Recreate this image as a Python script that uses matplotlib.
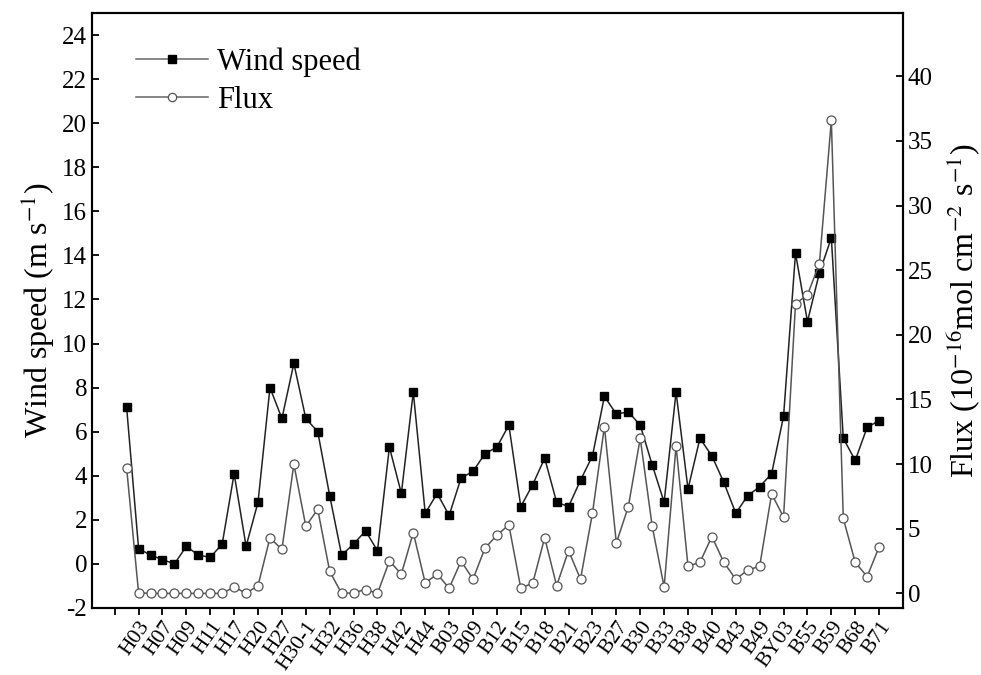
import numpy as np
import matplotlib
matplotlib.use('Agg')
import matplotlib.pyplot as plt

# ---------- Data ----------
# labels shown on every other site (even positions 2, 4, ..., 64)
tick_labels = ['H03', 'H07', 'H09', 'H11', 'H17', 'H20', 'H27', 'H30-1',
               'H32', 'H36', 'H38', 'H42', 'H44', 'B03', 'B09', 'B12',
               'B15', 'B18', 'B21', 'B23', 'B27', 'B30', 'B33', 'B38',
               'B40', 'B43', 'B49', 'BY03', 'B55', 'B59', 'B68', 'B71']

# wind speed (m s-1), 64 sites
wind_speed = [7.1, 0.7, 0.4, 0.2, 0.0, 0.8, 0.4, 0.3, 0.9, 4.1,
              0.8, 2.8, 8.0, 6.6, 9.1, 6.6, 6.0, 3.1, 0.4, 0.9,
              1.5, 0.6, 5.3, 3.2, 7.8, 2.3, 3.2, 2.2, 3.9, 4.2,
              5.0, 5.3, 6.3, 2.6, 3.6, 4.8, 2.8, 2.6, 3.8, 4.9,
              7.6, 6.8, 6.9, 6.3, 4.5, 2.8, 7.8, 3.4, 5.7, 4.9,
              3.7, 2.3, 3.1, 3.5, 4.1, 6.7, 14.1, 11.0, 13.2, 14.8,
              5.7, 4.7, 6.2, 6.5]

# flux (10^-16 mol cm-2 s-1), 64 sites
flux = [9.7, 0.05, 0.0, 0.0, 0.0, 0.0, 0.0, 0.0, 0.0, 0.5,
        0.0, 0.6, 4.3, 3.4, 10.0, 5.2, 6.5, 1.7, 0.0, 0.05,
        0.3, 0.0, 2.5, 1.5, 4.7, 0.8, 1.5, 0.4, 2.5, 1.1,
        3.5, 4.5, 5.3, 0.4, 0.8, 4.3, 0.6, 3.3, 1.1, 6.2,
        12.9, 3.9, 6.7, 12.0, 5.2, 0.5, 11.4, 2.1, 2.4, 4.4,
        2.4, 1.1, 1.8, 2.1, 7.7, 5.9, 22.4, 23.1, 25.5, 36.6,
        5.8, 2.4, 1.3, 3.6]

# ---------- Plotting ----------
plt.rcParams['font.family'] = ['Liberation Serif', 'DejaVu Serif']
plt.rcParams['mathtext.fontset'] = 'stix'
plt.rcParams['axes.unicode_minus'] = False

x = np.arange(1, len(wind_speed) + 1)

fig = plt.figure(figsize=(9.81, 6.75), dpi=100)
ax = fig.add_axes([92 / 981, 1 - 608 / 675, (903 - 92) / 981, (608 - 13) / 675])
ax2 = ax.twinx()

l1, = ax.plot(x, wind_speed, color='#222222', lw=1.1, marker='s', ms=6,
              mfc='black', mec='black', label='Wind speed')
l2, = ax2.plot(x, flux, color='#555555', lw=1.1, marker='o', ms=6.5,
               mfc='white', mec='#555555', mew=0.9, label='Flux')

ax.set_xlim(-1.9, 66)
ax.set_ylim(-2, 25)
ax2.set_ylim(-1.13, 44.9)

ax.set_yticks(np.arange(-2, 25, 2))
ax2.set_yticks(np.arange(0, 41, 5))
ax.set_xticks(np.arange(0, 65, 2))
ax.set_xticklabels([''] + tick_labels, rotation=55, ha='right',
                   rotation_mode='anchor', fontsize=15.5)

ax.tick_params(axis='y', direction='in', length=5, width=1.3, labelsize=18)
ax2.tick_params(axis='y', direction='in', length=5, width=1.3, labelsize=18)
ax.tick_params(axis='x', direction='out', length=5, width=1.3, pad=2)

for a in (ax, ax2):
    for s in a.spines.values():
        s.set_linewidth(1.5)

ax.set_ylabel('Wind speed (m s$^{-1}$)', fontsize=23, labelpad=4)
ax2.set_ylabel('Flux (10$^{-16}$mol cm$^{-2}$ s$^{-1}$)', fontsize=23, labelpad=8)

leg = ax.legend([l1, l2], ['Wind speed', 'Flux'], loc='upper left',
                bbox_to_anchor=(0.039, 0.963), borderaxespad=0, frameon=False,
                fontsize=22, handlelength=2.35, handletextpad=0.3,
                labelspacing=0.3)
for h in leg.get_lines():
    h.set_color('#666666')
    h.set_markersize(6)
leg.get_lines()[0].set_markerfacecolor('black')
leg.get_lines()[0].set_markeredgecolor('black')

fig.savefig('out.png', dpi=100)
